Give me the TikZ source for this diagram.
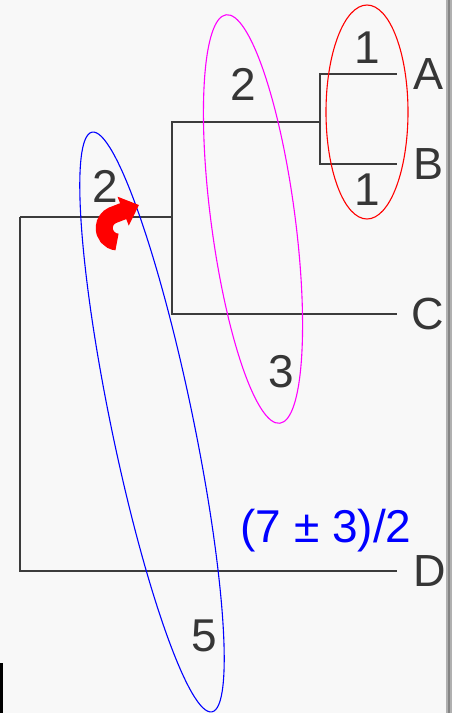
\documentclass[tikz,border=0pt]{standalone}
\usepackage{fontspec}
\setmainfont{Liberation Sans}
\usetikzlibrary{arrows.meta,positioning}
\definecolor{Paper}{HTML}{F8F8F8}
\definecolor{Ink}{HTML}{363636}
\definecolor{Branch}{HTML}{3C3C3C}
\definecolor{Edge}{HTML}{B0B0B0}
\definecolor{EdgeDark}{HTML}{858585}
\definecolor{Pink}{HTML}{FF00FF}
\definecolor{Royal}{HTML}{0000FF}
\definecolor{Alarm}{HTML}{FF0000}
\tikzset{
  branch/.style={draw=Branch,line width=1.3pt},
  leaflabel/.style={inner sep=0pt,font=\fontsize{45}{50}\selectfont,text=Ink,text depth=0pt},
  countlabel/.style={inner sep=0pt,anchor=base,font=\fontsize{46}{50}\selectfont,text=Ink},
  ratelabel/.style={inner sep=0pt,anchor=base,font=\fontsize{46}{50}\selectfont,text=Royal},
  ring/.style={line width=1.1pt},
  turnarrow/.style={-{Triangle[length=17pt,width=30pt]},draw=Alarm,line width=17pt}
}

\begin{document}
\begin{tikzpicture}[x=1pt,y=-1pt]
  % paper and scan edges
  \fill[Paper] (0,0) rectangle (452,713);
  \fill[Edge] (446,0) rectangle (452,713);
  \fill[EdgeDark] (447.5,0) rectangle (449.5,713);
  \fill[black] (0,663) rectangle (3,713);

  % tree
  \coordinate (nR) at (20,217);
  \coordinate (nABC) at (172,217);
  \coordinate (nAB) at (320,122);
  \coordinate (tA) at (397,74);
  \coordinate (tB) at (397,164);
  \coordinate (tC) at (397,314);
  \coordinate (tD) at (397,571);
  \draw[branch] (nR) -- (nABC);
  \draw[branch] (nR) |- (tD);
  \draw[branch] (nABC) |- (nAB);
  \draw[branch] (nABC) |- (tC);
  \draw[branch] (nAB) |- (tA);
  \draw[branch] (nAB) |- (tB);

  \node[leaflabel,right=16pt of tA] (A) {A};
  \node[leaflabel,right=16pt of tB] (B) {B};
  \node[leaflabel,right=14pt of tC] (C) {C};
  \node[leaflabel,right=16pt of tD] (D) {D};

  % clades
  \draw[ring,draw=Alarm] (367,112) ellipse [x radius=41, y radius=107];
  \draw[ring,draw=Pink] (253,219) ellipse [x radius=42, y radius=206, rotate=7.5];
  \draw[ring,draw=Royal] (152,422) ellipse [x radius=41, y radius=296, rotate=11.7];

  % counts
  \node[countlabel] (cA) at (367,63) {1};
  \node[countlabel] (cB) at (367,205) {1};
  \node[countlabel] (cAB) at (243,100) {2};
  \node[countlabel] (cR) at (105,202) {2};
  \node[countlabel] (cC) at (281,387) {3};
  \node[countlabel] (cD) at (204,651) {5};
  \node[ratelabel] (rate) at (326,542) {(7 ± 3)/2};

  % rerooting arrow
  \draw[turnarrow] (117,242) arc [start angle=95, end angle=245, radius=14] -- (139,205);
\end{tikzpicture}
\end{document}
